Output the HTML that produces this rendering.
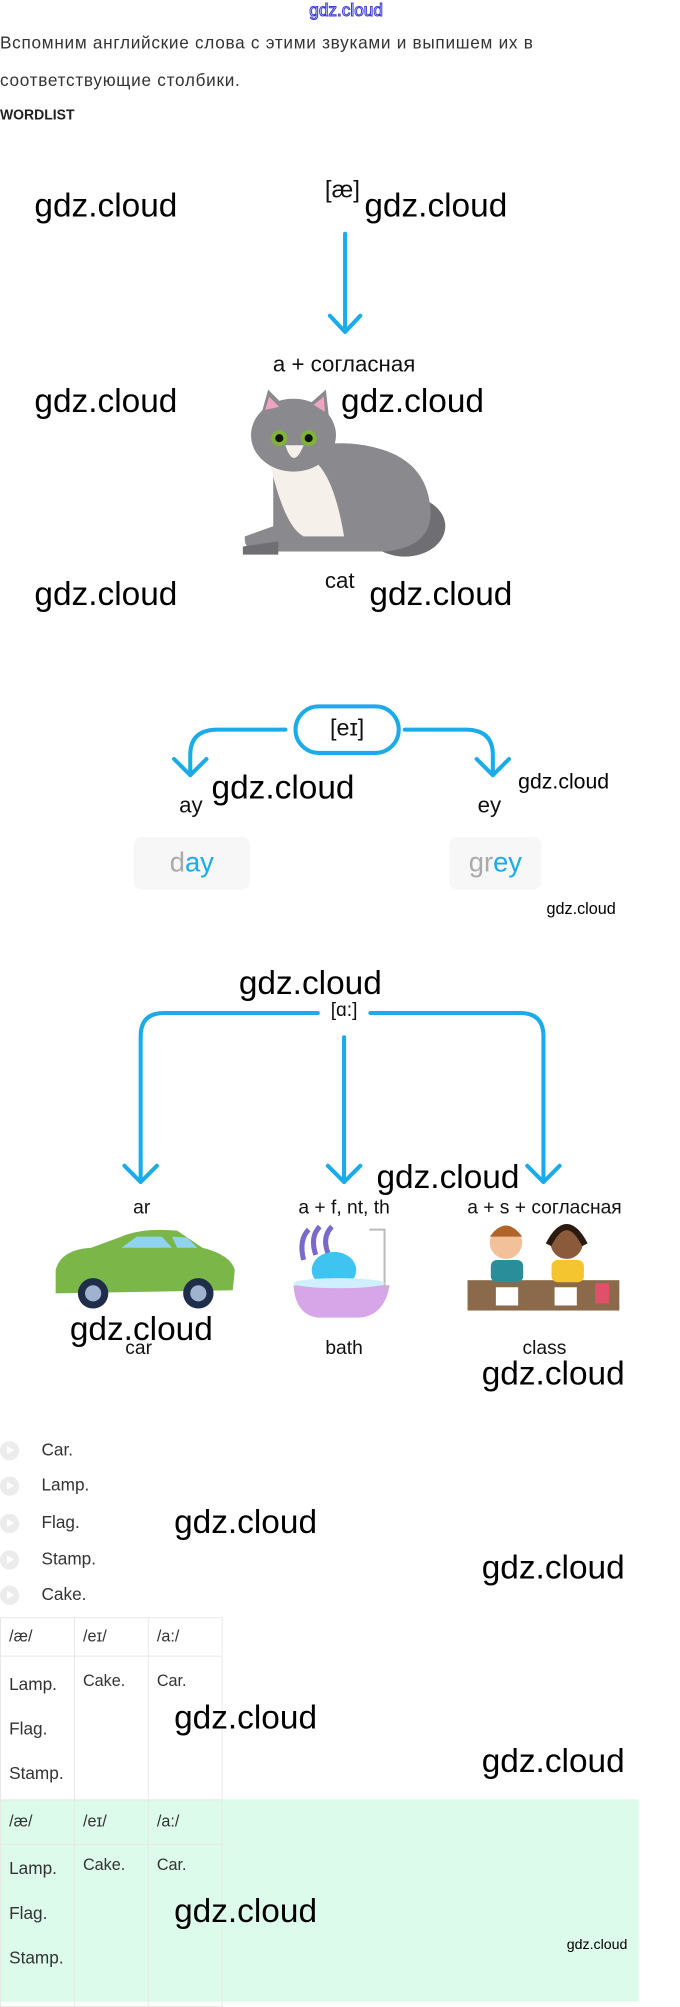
<!DOCTYPE html>
<html><head><meta charset="utf-8"><style>
*{margin:0;padding:0;box-sizing:border-box}
body{width:680px;height:1961px;position:relative;background:#fff;font-family:"Liberation Sans",sans-serif;color:#222;overflow:hidden}
#wrap{position:absolute;left:0;top:0;width:680px;height:1961px;transform:scale(1.012);transform-origin:0 0}
.a{position:absolute;white-space:nowrap;line-height:1}
.w{position:absolute;white-space:nowrap;line-height:1;font-size:33px;color:#000;font-family:"Liberation Sans",sans-serif}
.c{transform:translateX(-50%)}
.li{position:absolute;left:0;width:19px;height:19px;border-radius:50%;background:#ececec}
.li:after{content:"";position:absolute;left:7px;top:5px;border-left:7px solid #fff;border-top:4.5px solid transparent;border-bottom:4.5px solid transparent}
table{position:absolute;left:0;border-collapse:collapse;font-size:16px;color:#333}
td{border:1px solid #e8e8e8;vertical-align:top;padding:0 8px}
</style></head><body><div id="wrap">
<div class="a c" style="left:342px;top:2px;font-size:17px;color:#fff;-webkit-text-stroke:1px #3a3ad0">gdz.cloud</div>
<div class="a" style="left:0;top:34px;font-size:17px;letter-spacing:.7px;color:#333">Вспомним английские слова с этими звуками и выпишем их в</div>
<div class="a" style="left:0;top:71px;font-size:17px;letter-spacing:.7px;color:#333">соответствующие столбики.</div>
<div class="a" style="left:0;top:106px;font-size:15px;font-weight:bold;color:#222;transform:scaleX(.92);transform-origin:left">WORDLIST</div>

<svg style="position:absolute;left:0;top:0" width="680" height="1961">
<g stroke="#1aabe8" stroke-width="4" fill="none" stroke-linecap="round" stroke-linejoin="round">
<path d="M341 231 V328 M326 312 L341 328 L356 312"/>
<rect x="292" y="698" width="102" height="46" rx="23"/>
<path d="M282 721 H215 Q188 721 188 746 V766 M172 750 L188 766 L204 750"/>
<path d="M400 721 H460 Q487 721 487 746 V766 M471 750 L487 766 L503 750"/>
<path d="M314 1001 H162 Q139 1001 139 1024 V1168 M123 1152 L139 1168 L155 1152"/>
<path d="M366 1001 H514 Q537 1001 537 1024 V1168 M521 1152 L537 1168 L553 1152"/>
<path d="M340 1025 V1168 M324 1152 L340 1168 L356 1152"/>
</g>
<g>
<ellipse cx="400" cy="520" rx="40" ry="30" fill="#6f6f73"/>
<path d="M270 470 Q300 430 360 440 Q420 450 425 500 Q430 540 380 545 L260 545 Q240 545 242 530 L270 520 Z" fill="#8a898e"/>
<path d="M265 450 Q280 520 300 530 L340 530 Q330 470 310 455 Z" fill="#f5f1ea"/>
<ellipse cx="290" cy="430" rx="42" ry="36" fill="#8a898e"/>
<path d="M258 410 L265 385 L282 402 Z M305 400 L322 385 L325 412 Z" fill="#8a898e"/>
<path d="M262 405 L266 392 L276 402 Z M310 400 L320 392 L321 407 Z" fill="#f0a3c0"/>
<circle cx="276" cy="433" r="8" fill="#7fb33a"/><circle cx="305" cy="433" r="8" fill="#7fb33a"/>
<circle cx="276" cy="433" r="4" fill="#111"/><circle cx="305" cy="433" r="4" fill="#111"/>
<path d="M282 440 Q290 465 300 440 Z" fill="#f5f1ea"/>
<path d="M240 540 L275 535 L275 548 L240 548 Z" fill="#6f6f73"/>
</g>
<g>
<path d="M55 1255 Q60 1235 90 1233 L120 1222 Q140 1213 175 1216 L200 1233 Q228 1240 232 1255 L230 1275 L55 1278 Z" fill="#7ab648"/>
<path d="M120 1233 L135 1222 L160 1222 L170 1233 Z M175 1233 L170 1222 L185 1223 L195 1233 Z" fill="#8fd3f0"/>
<circle cx="92" cy="1278" r="15" fill="#1f2d4a"/><circle cx="92" cy="1278" r="8" fill="#9fb3d0"/>
<circle cx="196" cy="1278" r="15" fill="#1f2d4a"/><circle cx="196" cy="1278" r="8" fill="#9fb3d0"/>
</g>
<g>
<path d="M290 1270 H385 Q380 1300 355 1302 H315 Q292 1300 290 1270 Z" fill="#d7a6e8"/>
<path d="M365 1215 H380 V1275" stroke="#bbb" stroke-width="2" fill="none"/>
<ellipse cx="330" cy="1255" rx="22" ry="18" fill="#3fc3f0"/>
<path d="M300 1245 Q295 1225 305 1215 M312 1240 Q306 1222 316 1212 M324 1238 Q318 1222 328 1212" stroke="#7a69c8" stroke-width="5" fill="none"/>
<ellipse cx="335" cy="1268" rx="45" ry="5" fill="#cfefff"/>
</g>
<g>
<rect x="462" y="1265" width="150" height="30" fill="#8a6a4a"/>
<circle cx="500" cy="1228" r="16" fill="#f2c19a"/><path d="M484 1222 Q500 1200 516 1222 Z" fill="#b0642a"/>
<rect x="485" y="1245" width="32" height="22" rx="6" fill="#2a8d9a"/>
<circle cx="560" cy="1228" r="16" fill="#8a5a3a"/><path d="M542 1230 Q560 1195 578 1230" stroke="#2a1a10" stroke-width="6" fill="none"/>
<rect x="545" y="1245" width="32" height="22" rx="6" fill="#f5c530"/>
<rect x="490" y="1272" width="22" height="18" fill="#fff"/><rect x="548" y="1272" width="22" height="18" fill="#fff"/>
<rect x="588" y="1268" width="14" height="20" fill="#e0506a"/>
</g>
</svg>

<div class="w" style="left:34px;top:186px">gdz.cloud</div>
<div class="a" style="left:321px;top:176px;font-size:24px;color:#111">[æ]</div>
<div class="w" style="left:360px;top:186px">gdz.cloud</div>
<div class="a c" style="left:340px;top:349px;font-size:22px;color:#111">a + согласная</div>
<div class="w" style="left:34px;top:379px">gdz.cloud</div>
<div class="w" style="left:337px;top:379px">gdz.cloud</div>
<div class="a" style="left:321px;top:563px;font-size:22px;color:#111">cat</div>
<div class="w" style="left:34px;top:570px">gdz.cloud</div>
<div class="w" style="left:365px;top:570px">gdz.cloud</div>

<div class="a c" style="left:343px;top:708px;font-size:23px;color:#111">[eɪ]</div>
<div class="a" style="left:177px;top:785px;font-size:22px;color:#111">ay</div>
<div class="w" style="left:209px;top:761px">gdz.cloud</div>
<div class="a" style="left:472px;top:785px;font-size:22px;color:#111">ey</div>
<div class="a" style="left:512px;top:762px;font-size:21px;color:#000">gdz.cloud</div>
<div class="a" style="left:132px;top:827px;width:115px;height:52px;background:#f7f7f7;border-radius:8px;text-align:center;line-height:50px;font-size:27px;color:#aaa">d<span style="color:#1aabe8">ay</span></div>
<div class="a" style="left:444px;top:827px;width:91px;height:52px;background:#f7f7f7;border-radius:8px;text-align:center;line-height:50px;font-size:27px;color:#aaa">gr<span style="color:#1aabe8">ey</span></div>
<div class="a" style="left:540px;top:891px;font-size:16px;color:#000">gdz.cloud</div>

<div class="w" style="left:236px;top:954px">gdz.cloud</div>
<div class="a c" style="left:340px;top:989px;font-size:19px;color:#111">[ɑ:]</div>
<div class="w" style="left:372px;top:1146px">gdz.cloud</div>
<div class="a c" style="left:140px;top:1184px;font-size:19px;color:#111">ar</div>
<div class="a c" style="left:340px;top:1184px;font-size:19px;color:#111">a + f, nt, th</div>
<div class="a c" style="left:538px;top:1184px;font-size:19px;color:#111">a + s + согласная</div>
<div class="w" style="left:69px;top:1296px">gdz.cloud</div>
<div class="a c" style="left:137px;top:1323px;font-size:19px;color:#111">car</div>
<div class="a c" style="left:340px;top:1323px;font-size:19px;color:#111">bath</div>
<div class="a c" style="left:538px;top:1323px;font-size:19px;color:#111">class</div>
<div class="w" style="left:476px;top:1340px">gdz.cloud</div>

<div class="li" style="top:1424px"></div><div class="a" style="left:41px;top:1424px;font-size:17px;color:#333">Car.</div>
<div class="li" style="top:1459px"></div><div class="a" style="left:41px;top:1459px;font-size:17px;color:#333">Lamp.</div>
<div class="li" style="top:1496px"></div><div class="a" style="left:41px;top:1496px;font-size:17px;color:#333">Flag.</div>
<div class="li" style="top:1532px"></div><div class="a" style="left:41px;top:1532px;font-size:17px;color:#333">Stamp.</div>
<div class="li" style="top:1567px"></div><div class="a" style="left:41px;top:1567px;font-size:17px;color:#333">Cake.</div>

<table style="top:1598px;width:220px">
<tr style="height:38px"><td style="width:73px;vertical-align:middle">/æ/</td><td style="width:73px;vertical-align:middle">/eɪ/</td><td style="vertical-align:middle">/a:/</td></tr>
<tr style="height:144px"><td style="line-height:44px;font-size:17px;padding-top:6px">Lamp.<br>Flag.<br>Stamp.</td><td style="padding-top:16px">Cake.</td><td style="padding-top:16px">Car.</td></tr>
</table>
<div class="a" style="left:0;top:1778px;width:631px;height:200px;background:#dcfbea"></div>
<table style="top:1778px;width:220px">
<tr style="height:44px"><td style="width:73px;vertical-align:middle">/æ/</td><td style="width:73px;vertical-align:middle">/eɪ/</td><td style="vertical-align:middle">/a:/</td></tr>
<tr style="height:160px"><td style="line-height:44px;font-size:17px;padding-top:2px">Lamp.<br>Flag.<br>Stamp.</td><td style="padding-top:12px">Cake.</td><td style="padding-top:12px">Car.</td></tr>
</table>

<div class="w" style="left:172px;top:1487px">gdz.cloud</div>
<div class="w" style="left:476px;top:1532px">gdz.cloud</div>
<div class="w" style="left:172px;top:1680px">gdz.cloud</div>
<div class="w" style="left:476px;top:1723px">gdz.cloud</div>
<div class="w" style="left:172px;top:1871px">gdz.cloud</div>
<div class="a" style="left:560px;top:1914px;font-size:14px;color:#000">gdz.cloud</div>
</div></body></html>
